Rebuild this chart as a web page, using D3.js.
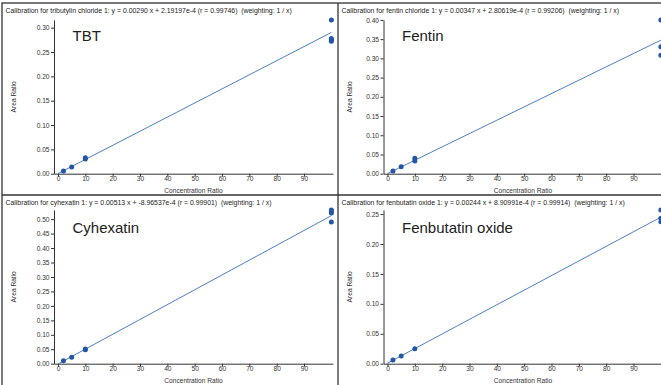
<!DOCTYPE html>
<html>
<head>
<meta charset="utf-8">
<script src="https://cdn.jsdelivr.net/npm/d3@7"></script>
<style>
  body { margin: 0; background: #fff; }
  text { font-family: "Liberation Sans", Arial, sans-serif; }
</style>
</head>
<body>
<div id="calib"></div>
<script>
//compound data (concentration ratio vs area ratio)
const compounds = ["tributylin chloride", "fentin chloride", "cyhexatin", "fenbutatin oxide"];
const labels = ["TBT", "Fentin", "Cyhexatin", "Fenbutatin oxide"];
const slopes = [0.00290, 0.00347, 0.00513, 0.00244];
const intercepts = [2.19197e-4, 2.80619e-4, -8.96537e-4, 8.90991e-4];
const rValues = ["0.99746", "0.99206", "0.99901", "0.99914"];
const interceptText = ["2.19197e-4", "2.80619e-4", "-8.96537e-4", "8.90991e-4"];

const tbtX = [2, 5, 10, 10, 100, 100, 100, 100];
const tbtY = [0.0055, 0.014, 0.030, 0.033, 0.316, 0.278, 0.275, 0.272];
const fentinX = [2, 5, 10, 10, 100, 100, 100];
const fentinY = [0.007, 0.018, 0.033, 0.040, 0.400, 0.330, 0.308];
const cyhexX = [2, 5, 10, 10, 100, 100, 100, 100];
const cyhexY = [0.010, 0.022, 0.048, 0.051, 0.532, 0.526, 0.521, 0.490];
const fenbutX = [2, 5, 10, 100, 100, 100];
const fenbutY = [0.006, 0.013, 0.025, 0.257, 0.243, 0.237];

const xTicks = [0, 10, 20, 30, 40, 50, 60, 70, 80, 90];
const yTickSets = [
    [0, 0.05, 0.10, 0.15, 0.20, 0.25, 0.30],
    [0, 0.05, 0.10, 0.15, 0.20, 0.25, 0.30, 0.35, 0.40],
    [0, 0.05, 0.10, 0.15, 0.20, 0.25, 0.30, 0.35, 0.40, 0.45, 0.50],
    [0, 0.05, 0.10, 0.15, 0.20, 0.25]
];
const pointsX = [tbtX, fentinX, cyhexX, fenbutX];
const pointsY = [tbtY, fentinY, cyhexY, fenbutY];

//layout
const width = 661;
const height = 385;
const colLeft = [2, 338];      // panel border x
const rowTop = [3, 195];       // panel border y
const axisLeft = [54, 383.5];  // y axis line x
const axisBottom = [173.7, 363.7]; // x axis line y
const plotW = 279;
const plotH = 153.8;

const svg = d3.select("#calib")
    .append("svg")
    .attr("width", width)
    .attr("height", height);

svg.append("rect")
    .attr("width", width)
    .attr("height", height)
    .attr("fill", "white");

compounds.forEach((name, i) => {
    const col = i % 2;
    const row = Math.floor(i / 2);
    const x0 = axisLeft[col];
    const y0 = axisBottom[row];

    const g = svg.append("g").attr("class", "panel");

    //x scale: -1.46 at axis start, ~100.6 at end
    const xscale = d3.scaleLinear()
        .domain([-1.46, 100.6])
        .range([x0, x0 + plotW]);
    const yscale = d3.scaleLinear()
        .domain([0, d3.max(pointsY[i])])
        .range([y0, y0 - plotH]);

    //title
    g.append("text")
        .attr("x", colLeft[col] + 3.5)
        .attr("y", rowTop[row] + 9.5)
        .attr("font-size", "6.9px")
        .attr("fill", "#222")
        .style("white-space", "pre")
        .text(`Calibration for ${name} 1: y = ${slopes[i].toFixed(5)} x + ${interceptText[i]} (r = ${rValues[i]})  (weighting: 1 / x)`);

    //x axis
    const xAxis = d3.axisBottom(xscale)
        .tickValues(xTicks)
        .tickSize(3)
        .tickSizeOuter(0)
        .tickFormat(d3.format("d"));
    const xAxisG = g.append("g")
        .attr("transform", "translate(0," + y0 + ")")
        .call(xAxis);
    xAxisG.selectAll("text")
        .attr("font-size", "6.6px")
        .attr("fill", "#333")
        .attr("dy", "0.6em")
        .attr("y", 3);
    xAxisG.selectAll("line, path").attr("stroke", "#333");

    //y axis
    const yAxis = d3.axisLeft(yscale)
        .tickValues(yTickSets[i])
        .tickSize(3)
        .tickSizeOuter(0)
        .tickFormat(d3.format(".2f"));
    const yAxisG = g.append("g")
        .attr("transform", "translate(" + x0 + ",0)")
        .call(yAxis);
    yAxisG.selectAll("text")
        .attr("font-size", "6.6px")
        .attr("fill", "#333")
        .attr("x", -4.5);
    yAxisG.selectAll("line, path").attr("stroke", "#333");

    //axis titles
    g.append("text")
        .attr("x", x0 + plotW / 2)
        .attr("y", y0 + 19)
        .attr("text-anchor", "middle")
        .attr("font-size", "6.6px")
        .attr("fill", "#333")
        .text("Concentration Ratio");
    g.append("text")
        .attr("transform", "translate(" + (colLeft[col] + 14) + "," + (y0 - plotH / 2) + ") rotate(-90)")
        .attr("text-anchor", "middle")
        .attr("font-size", "6.6px")
        .attr("fill", "#333")
        .text("Area Ratio");

    //compound label
    g.append("text")
        .attr("x", x0 + 18.5)
        .attr("y", rowTop[row] + 37.5)
        .attr("font-size", "15px")
        .attr("fill", "#222")
        .text(labels[i]);

    //regression line
    g.append("line")
        .attr("x1", xscale(0))
        .attr("y1", yscale(intercepts[i]))
        .attr("x2", xscale(100))
        .attr("y2", yscale(slopes[i] * 100 + intercepts[i]))
        .attr("stroke", "#4f7fc8")
        .attr("stroke-width", 1);

    //points
    g.selectAll("circle")
        .data(pointsX[i].map((x, k) => ({ x: x, y: pointsY[i][k] })))
        .join("circle")
        .attr("cx", d => xscale(d.x))
        .attr("cy", d => yscale(d.y))
        .attr("r", 2.5)
        .attr("fill", "#2456a8");
});

//panel borders
svg.append("rect")
    .attr("x", 2)
    .attr("y", 3)
    .attr("width", 672)
    .attr("height", 384)
    .attr("fill", "none")
    .attr("stroke", "#333")
    .attr("stroke-width", 1.3);
svg.append("line")
    .attr("x1", 338).attr("x2", 338)
    .attr("y1", 3).attr("y2", 387)
    .attr("stroke", "#333")
    .attr("stroke-width", 1.3);
svg.append("line")
    .attr("x1", 2).attr("x2", 674)
    .attr("y1", 195).attr("y2", 195)
    .attr("stroke", "#333")
    .attr("stroke-width", 1.3);
</script>
</body>
</html>
